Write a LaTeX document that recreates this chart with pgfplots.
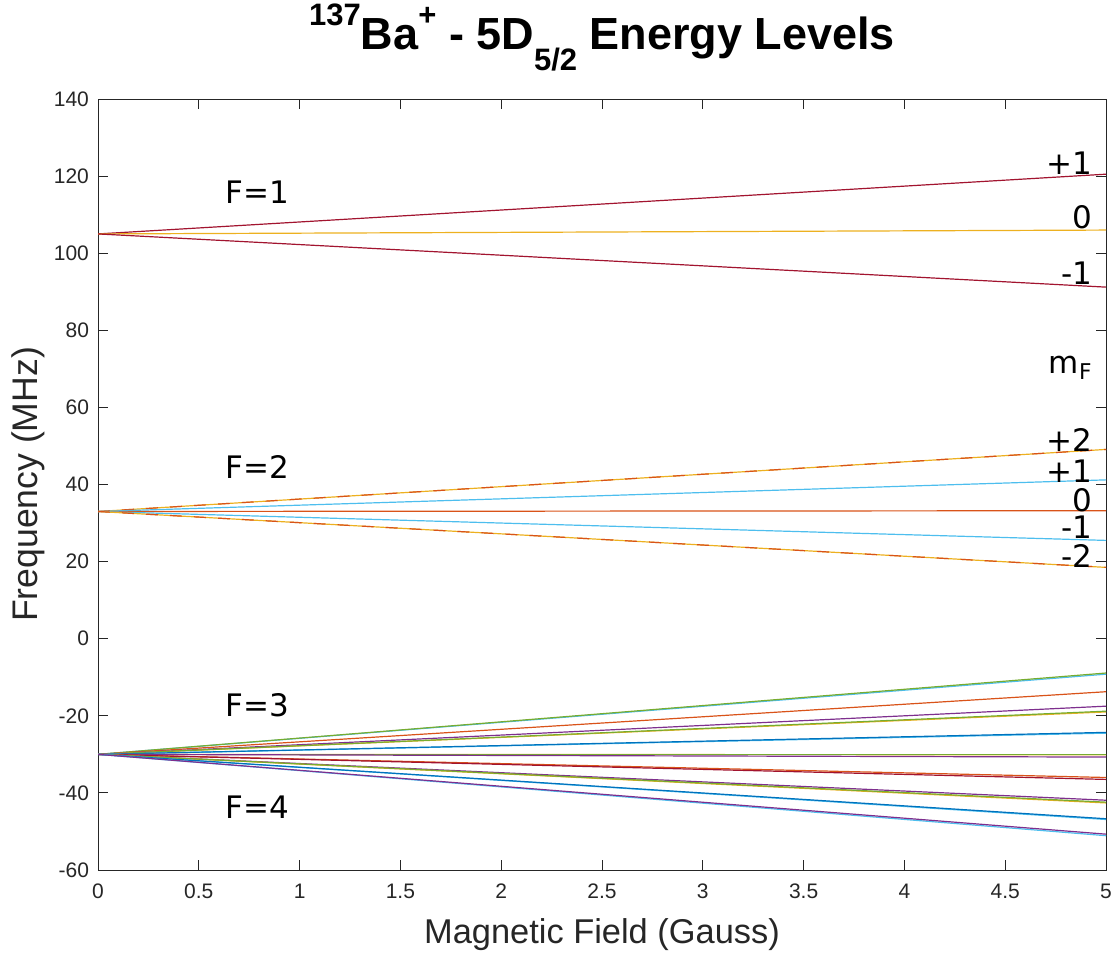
\documentclass[border=0pt]{standalone}
\usepackage{fontspec}
\setmainfont{Liberation Sans}
\newfontfamily\annot{DejaVu Sans}
\usepackage{pgfplots}
\pgfplotsset{compat=1.18}

% MATLAB default line colours
\definecolor{mblue}{HTML}{0072BD}
\definecolor{morange}{HTML}{D95319}
\definecolor{myellow}{HTML}{EDB120}
\definecolor{mpurple}{HTML}{7E2F8E}
\definecolor{mgreen}{HTML}{77AC30}
\definecolor{mcyan}{HTML}{4DBEEE}
\definecolor{mred}{HTML}{A2142F}
\definecolor{axgray}{RGB}{38,38,38}

\begin{document}
\begin{tikzpicture}
\useasboundingbox (-49pt,-42pt) rectangle (509.5pt,435pt);
\begin{axis}[
    at={(0,0)}, anchor=south west,
    scale only axis,
    width=504pt, height=385.5pt,
    xmin=0, xmax=5, ymin=-60, ymax=140,
    xtick={0,0.5,...,5},
    ytick={-60,-40,...,140},
    tick align=inside,
    major tick length=5pt,
    axis line style={axgray, line width=0.5pt},
    every tick/.style={axgray, line width=0.5pt},
    tick label style={font=\fontsize{10.5}{12}\selectfont, text=axgray},
    /pgf/number format/assume math mode=true,
    /pgf/number format/fixed,
    xticklabel style={yshift=-3.5pt},
    yticklabel style={xshift=-1pt},
    title={\bfseries\raisebox{12pt}{\fontsize{15.5}{15}\selectfont 137}Ba\raisebox{12pt}{\fontsize{15.5}{15}\selectfont +} - 5D\raisebox{-10.5pt}{\fontsize{15.5}{15}\selectfont 5/2} Energy Levels},
    title style={font=\fontsize{22.5}{24}\selectfont, at={(axis description cs:0.5,1.048)}, anchor=base},
    xlabel={Magnetic Field (Gauss)},
    xlabel style={font=\fontsize{17.2}{19}\selectfont, text=axgray, at={(axis description cs:0.5,-0.0947)}, anchor=base},
    ylabel={Frequency (MHz)},
    ylabel style={font=\fontsize{17.8}{19}\selectfont, text=axgray, at={(axis description cs:-0.0605,0.5)}, anchor=base},
    every axis plot/.append style={line width=0.6pt, no marks},
    clip=true,
]
% F=1
\addplot[mred]    coordinates {(0,105) (5,120.5)};
\addplot[myellow] coordinates {(0,105) (5,106.0)};
\addplot[mred]    coordinates {(0,105) (5,91.2)};
% F=2
\addplot[myellow] coordinates {(0,33) (5,49.1)};
\addplot[morange, dashed, dash pattern=on 6pt off 6pt] coordinates {(0,33) (5,49.1)};
\addplot[mcyan]   coordinates {(0,33) (5,41.2)};
\addplot[morange] coordinates {(0,33) (5,33.2)};
\addplot[mcyan]   coordinates {(0,33) (5,25.5)};
\addplot[myellow] coordinates {(0,33) (5,18.5)};
\addplot[morange, dashed, dash pattern=on 6pt off 6pt] coordinates {(0,33) (5,18.5)};
% F=3 and F=4
\addplot[mcyan]   coordinates {(0,-30) (5,-9.2)};
\addplot[mgreen]  coordinates {(0,-30) (5,-8.9)};
\addplot[morange] coordinates {(0,-30) (5,-13.75)};
\addplot[mpurple] coordinates {(0,-30) (5,-17.5)};
\addplot[myellow] coordinates {(0,-30) (5,-19.0)};
\addplot[mgreen]  coordinates {(0,-30) (5,-18.8)};
\addplot[mcyan]   coordinates {(0,-30) (5,-24.5)};
\addplot[mblue]   coordinates {(0,-30) (5,-24.3)};
\addplot[myellow] coordinates {(0,-30) (5,-30.1)};
\addplot[mgreen]  coordinates {(0,-30) (5,-30.0)};
\addplot[mpurple] coordinates {(0,-30) (5,-30.7)};
\addplot[morange] coordinates {(0,-30) (5,-36.0)};
\addplot[mred]    coordinates {(0,-30) (5,-36.5)};
\addplot[mpurple] coordinates {(0,-30) (5,-41.9)};
\addplot[myellow] coordinates {(0,-30) (5,-42.6)};
\addplot[mgreen]  coordinates {(0,-30) (5,-42.4)};
\addplot[mcyan]   coordinates {(0,-30) (5,-46.9)};
\addplot[mblue]   coordinates {(0,-30) (5,-46.7)};
\addplot[mcyan]   coordinates {(0,-30) (5,-51.1)};
\addplot[mpurple] coordinates {(0,-30) (5,-50.7)};
% labels
\begin{scope}[every node/.style={font=\annot\fontsize{15.5}{17}\selectfont, inner sep=0pt}]
\node at (axis cs:0.79,115.9) {F=1};
\node at (axis cs:0.79,44.5) {F=2};
\node at (axis cs:0.79,-17.2) {F=3};
\node at (axis cs:0.79,-43.7) {F=4};
\node[anchor=east] at (axis cs:4.935,123.4) {+1};
\node[anchor=east] at (axis cs:4.935,109.4) {0};
\node[anchor=east] at (axis cs:4.935,94.9) {-1};
\node[anchor=east] at (axis cs:4.935,70.2) {m\textsubscript{F}};
\node[anchor=east] at (axis cs:4.935,51.5) {+2};
\node[anchor=east] at (axis cs:4.935,43.5) {+1};
\node[anchor=east] at (axis cs:4.935,36.0) {0};
\node[anchor=east] at (axis cs:4.935,29.0) {-1};
\node[anchor=east] at (axis cs:4.935,21.4) {-2};
\end{scope}
\end{axis}
\end{tikzpicture}
\end{document}
